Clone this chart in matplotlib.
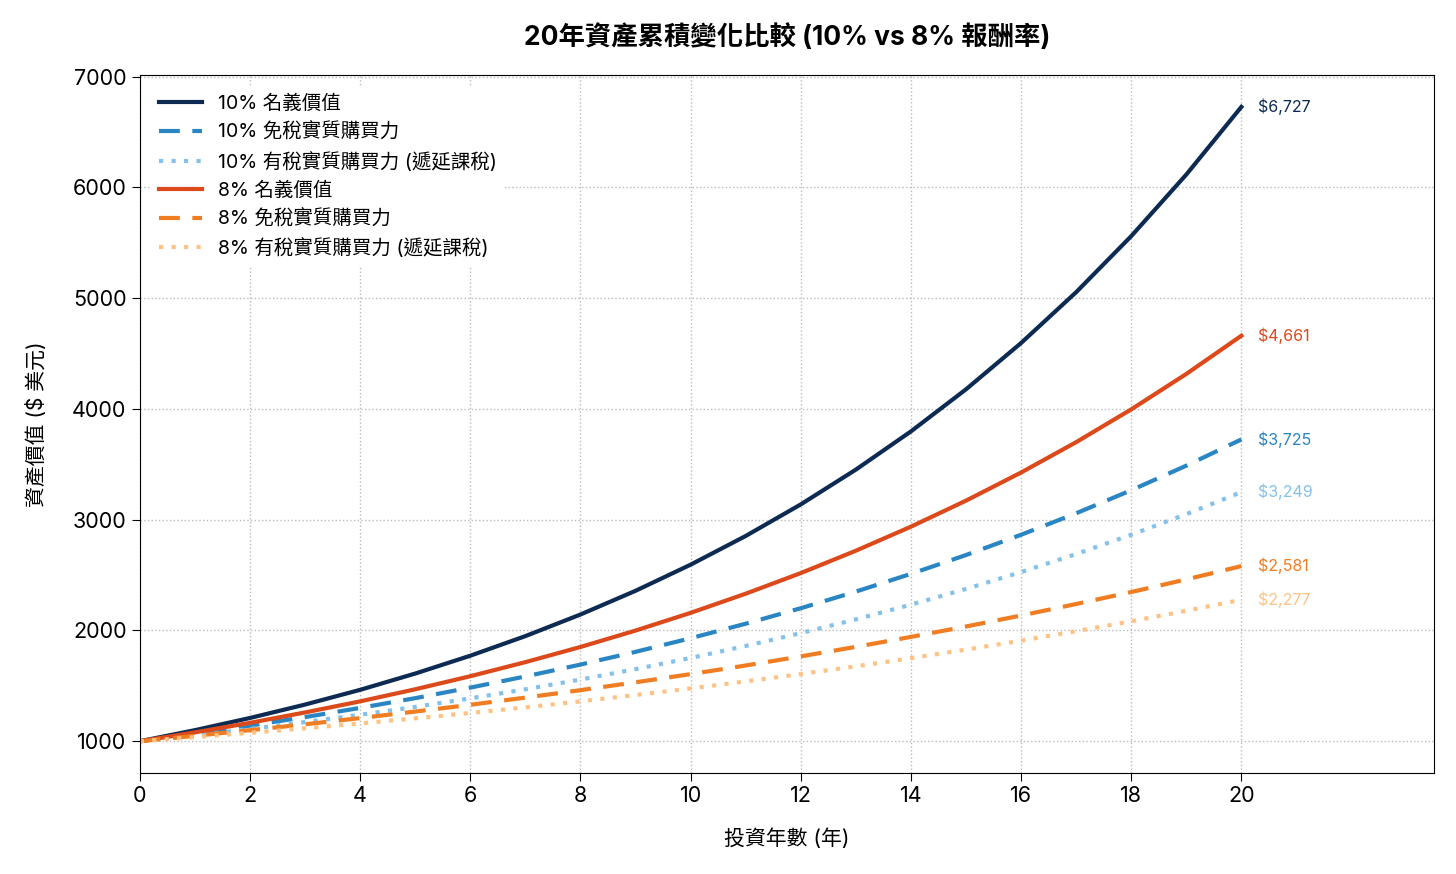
import matplotlib
matplotlib.use("Agg")
import matplotlib.pyplot as plt

plt.rcParams['font.family'] = ['Inter', 'Noto Sans CJK TC', 'DejaVu Sans']

years = list(range(0, 21))
nominal_10 = [1000, 1100, 1210, 1331, 1464, 1611, 1772, 1949, 2144, 2358, 2594,
              2853, 3138, 3452, 3797, 4177, 4595, 5054, 5560, 6116, 6727]
real_10 = [1000, 1068, 1141, 1218, 1301, 1389, 1484, 1585, 1692, 1807, 1930,
           2061, 2201, 2351, 2511, 2681, 2864, 3058, 3266, 3488, 3725]
taxed_10 = [1000, 1053, 1111, 1173, 1239, 1310, 1387, 1469, 1557, 1651, 1752,
            1860, 1976, 2100, 2233, 2375, 2527, 2690, 2864, 3050, 3249]
nominal_8 = [1000, 1080, 1166, 1260, 1360, 1469, 1587, 1714, 1851, 1999, 2159,
             2332, 2518, 2720, 2937, 3172, 3426, 3700, 3996, 4316, 4661]
real_8 = [1000, 1049, 1100, 1153, 1209, 1268, 1329, 1394, 1461, 1532, 1606,
          1684, 1766, 1852, 1942, 2036, 2135, 2239, 2347, 2461, 2581]
taxed_8 = [1000, 1037, 1076, 1117, 1161, 1207, 1255, 1306, 1360, 1417, 1477,
           1540, 1607, 1676, 1750, 1827, 1908, 1994, 2083, 2178, 2277]

labels = ['10% 名義價值', '10% 免稅實質購買力', '10% 有稅實質購買力 (遞延課稅)',
          '8% 名義價值', '8% 免稅實質購買力', '8% 有稅實質購買力 (遞延課稅)']
series = [nominal_10, real_10, taxed_10, nominal_8, real_8, taxed_8]
colors = ['#0d2b52', '#2a86c2', '#85c1e9', '#dc4a1b', '#f07d22', '#fdc386']
styles = ['-', (0, (5, 3)), (0, (1, 2)), '-', (0, (5, 3)), (0, (1, 2))]

fig = plt.figure(figsize=(14.56, 8.74), dpi=100)
ax = fig.add_axes([0.096, 0.1156, 0.889, 0.7984])

for s, lab, c, ls in zip(series, labels, colors, styles):
    ax.plot(years, s, color=c, linestyle=ls, linewidth=3, label=lab)
    ax.text(years[-1] + 0.3, s[-1], f'${s[-1]:,}', color=c, fontsize=11.5,
            va='center', ha='left')

ax.set_xlim(0, 23.5)
ax.set_xticks(range(0, 21, 2))
ax.set_yticks(range(1000, 7001, 1000))
ax.tick_params(labelsize=15.5, length=6)
ax.grid(True, linestyle=':', color='#bbbbbb', linewidth=1)
ax.set_title('20年資產累積變化比較 (10% vs 8% 報酬率)', fontsize=19,
             fontweight='bold', pad=22)
ax.set_xlabel('投資年數 (年)', fontsize=15, labelpad=16)
ax.set_ylabel('資產價值 ($ 美元)', fontsize=15, labelpad=18)
leg = ax.legend(loc='upper left', fontsize=14, frameon=True, edgecolor='none',
                framealpha=1, handlelength=2.2, borderaxespad=0.6,
                labelspacing=0.5)

fig.savefig('out.png', dpi=100)
